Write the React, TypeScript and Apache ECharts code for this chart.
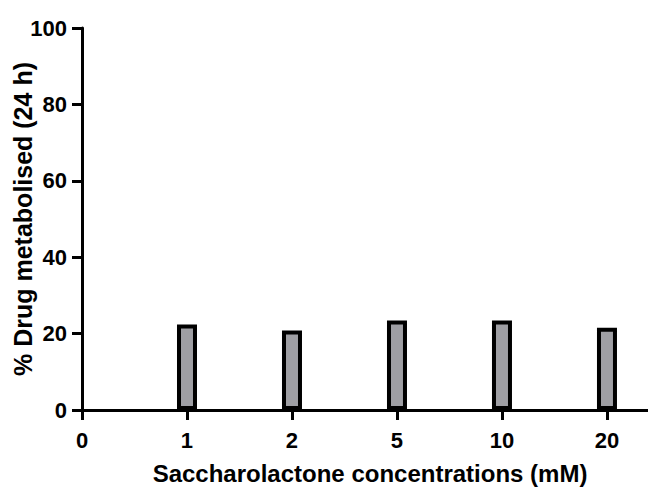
import React, { useEffect, useRef } from "react";
import * as echarts from "echarts";

// Saccharolactone concentrations (mM) shown on the x axis
const categories = ["0", "1", "2", "5", "10", "20"];
// % drug metabolised after 24 h; no bar at 0 mM
const metabolised: (number | null)[] = [null, 22.4, 20.8, 23.4, 23.4, 21.5];
const yTicks = [0, 20, 40, 60, 80, 100];

const FONT = "'Liberation Sans', Arial, Helvetica, sans-serif";

export default function App() {
  const ref = useRef<HTMLDivElement>(null);

  useEffect(() => {
    if (!ref.current) return;
    const chart = echarts.init(ref.current, undefined, { renderer: "svg" });

    const barData = metabolised
      .map((v, i) => (v == null ? null : [i, v]))
      .filter((d) => d !== null);

    chart.setOption({
      animation: false,
      backgroundColor: "#ffffff",
      grid: {
        left: 82,
        top: 28,
        width: 576,
        height: 382,
        containLabel: false,
        outerBoundsMode: "none",
      },
      xAxis: {
        type: "value",
        min: 0,
        max: 5.486,
        interval: 1,
        name: "Saccharolactone concentrations (mM)",
        nameLocation: "middle",
        nameGap: 51,
        nameMoveOverlap: false,
        nameTextStyle: {
          fontFamily: FONT,
          fontWeight: "bold",
          fontSize: 24,
          color: "#000",
        },
        axisLine: { show: true, lineStyle: { color: "#000", width: 3 } },
        axisTick: {
          show: true,
          inside: false,
          length: 10,
          lineStyle: { color: "#000", width: 3 },
        },
        axisLabel: {
          margin: 19,
          fontFamily: FONT,
          fontWeight: "bold",
          fontSize: 22,
          color: "#000",
          formatter: (v: number) =>
            Number.isInteger(v) && v >= 0 && v < categories.length
              ? categories[v]
              : "",
        },
        splitLine: { show: false },
      },
      yAxis: {
        type: "value",
        min: yTicks[0],
        max: yTicks[yTicks.length - 1],
        interval: yTicks[1] - yTicks[0],
        name: "% Drug metabolised (24 h)",
        nameLocation: "middle",
        nameGap: 47,
        nameMoveOverlap: false,
        nameTextStyle: {
          fontFamily: FONT,
          fontWeight: "bold",
          fontSize: 25,
          color: "#000",
        },
        axisLine: { show: true, lineStyle: { color: "#000", width: 3 } },
        axisTick: {
          show: true,
          inside: false,
          length: 10,
          lineStyle: { color: "#000", width: 3 },
        },
        axisLabel: {
          margin: 15,
          fontFamily: FONT,
          fontWeight: "bold",
          fontSize: 22,
          color: "#000",
        },
        splitLine: { show: false },
      },
      series: [
        {
          type: "bar",
          data: barData,
          barWidth: 20,
          itemStyle: {
            color: "#9f9fa4",
            borderColor: "#000",
            borderWidth: 4,
          },
        },
      ],
    });

    return () => chart.dispose();
  }, []);

  return (
    <div
      ref={ref}
      style={{ position: "fixed", left: 0, top: 0, width: 648, height: 488 }}
    />
  );
}
